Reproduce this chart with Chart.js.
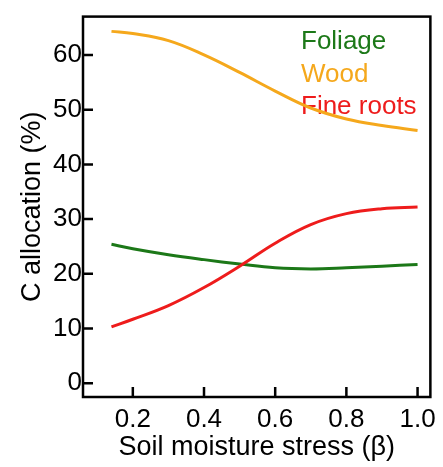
<!DOCTYPE html>
<html>
<head>
<meta charset="utf-8">
<script src="https://cdn.jsdelivr.net/npm/chart.js@4"></script>
<style>
  html, body { margin: 0; padding: 0; background: #fff; }
  #wrap { width: 443px; height: 467px; }
</style>
</head>
<body>
<div id="wrap"><canvas id="cvsAlloc" width="443" height="467"></canvas></div>
<script>
// soil moisture stress (beta) and allocation per pool, in %
const beta = [0.14, 0.2, 0.3, 0.4, 0.5, 0.6, 0.7, 0.8, 0.9, 1.0];
const foliage = [25.4, 24.6, 23.5, 22.6, 21.8, 21.1, 20.9, 21.1, 21.4, 21.7];
const wood = [64.3, 63.9, 62.6, 60.0, 56.8, 53.4, 50.3, 48.3, 47.1, 46.2];
const fineRoots = [10.3, 11.7, 14.2, 17.5, 21.4, 25.6, 29.0, 31.0, 31.9, 32.2];

const xTicks = [0.2, 0.4, 0.6, 0.8, 1.0];
const yTicks = [0, 10, 20, 30, 40, 50, 60];

const FONT = "'Liberation Sans', Arial, sans-serif";

const ctxAlloc = document.getElementById("cvsAlloc");

function pares(xs, ys) {
  return xs.map((x, i) => ({ x: x, y: ys[i] }));
}

// caixa preta + ticks pra dentro
const moldura = {
  id: "moldura",
  afterDraw(chart) {
    const { ctx, chartArea: a, scales } = chart;
    ctx.save();
    ctx.strokeStyle = "#000";
    ctx.lineWidth = 2.5;
    ctx.strokeRect(a.left, a.top, a.right - a.left, a.bottom - a.top);
    ctx.beginPath();
    xTicks.forEach(v => {
      const px = scales.x.getPixelForValue(v);
      ctx.moveTo(px, a.bottom);
      ctx.lineTo(px, a.bottom - 10);
    });
    yTicks.forEach(v => {
      const py = scales.y.getPixelForValue(v);
      ctx.moveTo(a.left, py);
      ctx.lineTo(a.left + 10, py);
    });
    ctx.stroke();
    ctx.restore();
  }
};

// legenda em texto colorido, por baixo das linhas
const legendaTexto = {
  id: "legendaTexto",
  beforeDatasetsDraw(chart) {
    const { ctx } = chart;
    ctx.save();
    ctx.font = "26px " + FONT;
    ctx.textBaseline = "middle";
    ctx.textAlign = "left";
    chart.data.datasets.forEach((ds, k) => {
      ctx.fillStyle = ds.borderColor;
      ctx.fillText(ds.label, 301, 42 + k * 32.5);
    });
    ctx.restore();
  }
};

new Chart(ctxAlloc, {
  type: "line",
  data: {
    datasets: [
      { label: "Foliage", data: pares(beta, foliage), borderColor: "#1c7818", order: 2 },
      { label: "Wood", data: pares(beta, wood), borderColor: "#f5a81c", order: 0 },
      { label: "Fine roots", data: pares(beta, fineRoots), borderColor: "#ee1c1c", order: 1 }
    ]
  },
  options: {
    responsive: false,
    animation: false,
    layout: { padding: { top: 6, right: 10, left: 0, bottom: 0 } },
    elements: {
      point: { radius: 0 },
      line: { borderWidth: 3, tension: 0.4, fill: false }
    },
    plugins: {
      legend: { display: false },
      tooltip: { enabled: false }
    },
    scales: {
      x: {
        type: "linear",
        min: 0.06,
        max: 1.036,
        grid: { display: false, drawTicks: false, tickLength: 0 },
        border: { display: false },
        afterBuildTicks: s => { s.ticks = xTicks.map(v => ({ value: v })); },
        ticks: {
          color: "#000",
          padding: 7,
          maxRotation: 0,
          font: { family: FONT, size: 26 },
          callback: v => v.toFixed(1)
        },
        title: {
          display: true,
          text: "Soil moisture stress (\u03b2)",
          color: "#000",
          font: { family: FONT, size: 27 },
          padding: { top: 0, bottom: 3 }
        },
        afterFit: s => { s.height = 70; }
      },
      y: {
        min: -2.5,
        max: 67,
        grid: { display: false, drawTicks: false, tickLength: 0 },
        border: { display: false },
        afterBuildTicks: s => { s.ticks = yTicks.map(v => ({ value: v })); },
        ticks: {
          color: "#000",
          padding: 1,
          font: { family: FONT, size: 26 }
        },
        title: {
          display: true,
          text: "C allocation (%)",
          color: "#000",
          font: { family: FONT, size: 27 },
          padding: { top: 16, bottom: 0 }
        },
        afterFit: s => { s.width = 83; }
      }
    }
  },
  plugins: [moldura, legendaTexto]
});
</script>
</body>
</html>
